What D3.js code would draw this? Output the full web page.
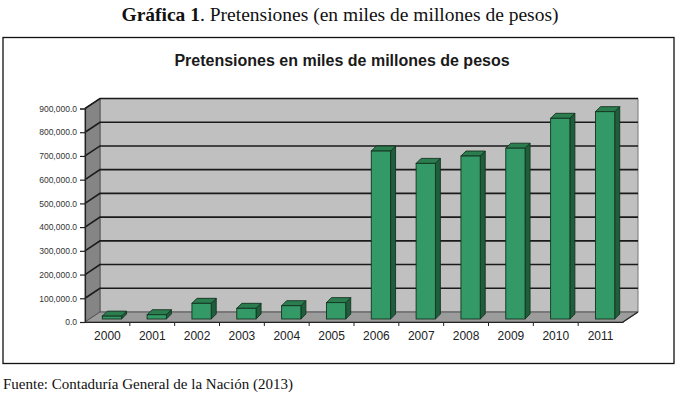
<!DOCTYPE html>
<html>
<head>
<meta charset="utf-8">
<script src="https://cdn.jsdelivr.net/npm/d3@7"></script>
<style>
  body { margin: 0; background: #fff; }
  svg { display: block; }
</style>
</head>
<body>
<div id="root"><svg width="680" height="398"></svg></div>
<script>
const years = ['2000', '2001', '2002', '2003', '2004', '2005', '2006', '2007', '2008', '2009', '2010', '2011'];
const pretensiones = [12000, 18000, 66000, 45000, 56000, 69000, 708000, 656000, 687000, 720000, 846000, 874000];
const yTicks = [0, 100000, 200000, 300000, 400000, 500000, 600000, 700000, 800000, 900000];

const svg = d3.select('#root svg');

// front plane of the 3d box
const plotLeft = 85;
const plotRight = 623;
const plotBottom = 322;
const plotTop = 108.5;
// depth offset of the back wall
const depthX = 15;
const depthY = -10;
// where the bars stand inside the depth
const barDepth = 0.3;

const xScale = d3.scaleBand().domain(years).range([plotLeft, plotRight]);
const yScale = d3.scaleLinear().domain([0, 900000]).range([plotBottom, plotTop]);

// headings
svg.append('text')
  .attr('x', 340).attr('y', 21)
  .attr('text-anchor', 'middle')
  .attr('font-family', 'Liberation Serif, serif')
  .attr('font-size', '19.5px')
  .attr('fill', '#111')
  .call(t => {
    t.append('tspan').attr('font-weight', 'bold').text('Gráfica 1');
    t.append('tspan').text('. Pretensiones (en miles de millones de pesos)');
  });

svg.append('rect')
  .attr('x', 3).attr('y', 37.5)
  .attr('width', 671).attr('height', 326)
  .attr('fill', '#fff')
  .attr('stroke', '#111')
  .attr('stroke-width', 1.3);

svg.append('text')
  .attr('x', 342).attr('y', 66)
  .attr('text-anchor', 'middle')
  .attr('font-family', 'Liberation Sans, Arial, sans-serif')
  .attr('font-weight', 'bold')
  .attr('font-size', '16px')
  .attr('fill', '#1a1a1a')
  .text('Pretensiones en miles de millones de pesos');

svg.append('text')
  .attr('x', 3).attr('y', 389)
  .attr('font-family', 'Liberation Serif, serif')
  .attr('font-size', '15px')
  .attr('fill', '#111')
  .text('Fuente: Contaduría General de la Nación (2013)');

// walls
const walls = svg.append('g').attr('class', 'walls');
const pts = arr => arr.map(p => p.join(',')).join(' ');

walls.append('polygon')
  .attr('points', pts([
    [plotLeft + depthX, plotTop + depthY], [plotRight + depthX, plotTop + depthY],
    [plotRight + depthX, plotBottom + depthY], [plotLeft + depthX, plotBottom + depthY]
  ]))
  .attr('fill', '#c0c0c0')
  .attr('stroke', '#777')
  .attr('stroke-width', 1);

walls.append('polygon')
  .attr('points', pts([
    [plotLeft, plotTop], [plotLeft + depthX, plotTop + depthY],
    [plotLeft + depthX, plotBottom + depthY], [plotLeft, plotBottom]
  ]))
  .attr('fill', '#858585')
  .attr('stroke', '#555')
  .attr('stroke-width', 1);

walls.append('polygon')
  .attr('points', pts([
    [plotLeft, plotBottom], [plotLeft + depthX, plotBottom + depthY],
    [plotRight + depthX, plotBottom + depthY], [plotRight, plotBottom]
  ]))
  .attr('fill', '#9c9c9c')
  .attr('stroke', '#555')
  .attr('stroke-width', 1);

// gridlines on back wall and side wall
const grid = svg.append('g').attr('class', 'grid');
grid.selectAll('path')
  .data(yTicks.filter(d => d > 0))
  .enter()
  .append('path')
  .attr('d', d => `M${plotLeft},${yScale(d)} L${plotLeft + depthX},${yScale(d) + depthY} L${plotRight + depthX},${yScale(d) + depthY}`)
  .attr('fill', 'none')
  .attr('stroke', '#1a1a1a')
  .attr('stroke-width', 1.6);

// bars
const barW = xScale.bandwidth() * 0.43;
const topX = 5;
const topY = -5;
const shiftX = depthX * barDepth;
const shiftY = depthY * barDepth;
const barColors = { front: '#339966', side: '#1f5e3a', top: '#2b7d4f', edge: '#143320' };

const bars = svg.append('g').attr('class', 'bars')
  .selectAll('g.col')
  .data(years.map((y, i) => ({ year: y, value: pretensiones[i] })))
  .enter()
  .append('g')
  .attr('class', 'col');

bars.each(function(d) {
  const g = d3.select(this);
  const x0 = xScale(d.year) + (xScale.bandwidth() - barW) / 2 + shiftX;
  const x1 = x0 + barW;
  const yb = yScale(0) + shiftY;
  const yt = yScale(d.value) + shiftY;
  g.append('polygon')
    .attr('points', pts([[x1, yt], [x1 + topX, yt + topY], [x1 + topX, yb + topY], [x1, yb]]))
    .attr('fill', barColors.side)
    .attr('stroke', barColors.edge).attr('stroke-width', 0.9);
  g.append('polygon')
    .attr('points', pts([[x0, yt], [x0 + topX, yt + topY], [x1 + topX, yt + topY], [x1, yt]]))
    .attr('fill', barColors.top)
    .attr('stroke', barColors.edge).attr('stroke-width', 0.9);
  g.append('rect')
    .attr('x', x0).attr('y', yt)
    .attr('width', barW).attr('height', yb - yt)
    .attr('fill', barColors.front)
    .attr('stroke', barColors.edge).attr('stroke-width', 0.9);
});

// axes
const yAxis = d3.axisLeft(yScale)
  .tickValues(yTicks)
  .tickFormat(d3.format(',.1f'))
  .tickSize(5)
  .tickPadding(3);
const yAxisG = svg.append('g')
  .attr('transform', `translate(${plotLeft} 0)`)
  .call(yAxis);
yAxisG.select('.domain').attr('stroke', '#222').attr('stroke-width', 1.2);
yAxisG.selectAll('.tick line').attr('stroke', '#222').attr('stroke-width', 1.2);
yAxisG.selectAll('.tick text')
  .attr('font-family', 'Liberation Sans, Arial, sans-serif')
  .attr('font-size', '8.5px')
  .attr('fill', '#333');

const xAxis = d3.axisBottom(xScale).tickSize(0).tickPadding(9);
const xAxisG = svg.append('g')
  .attr('transform', `translate(0 ${plotBottom})`)
  .call(xAxis);
xAxisG.select('.domain').attr('stroke', '#222').attr('stroke-width', 1.2);
xAxisG.selectAll('.tick text')
  .attr('font-family', 'Liberation Sans, Arial, sans-serif')
  .attr('font-size', '12px')
  .attr('fill', '#222');

// tick marks sit between the categories
xAxisG.selectAll('line.sep')
  .data(years.slice(1))
  .enter()
  .append('line')
  .attr('class', 'sep')
  .attr('x1', d => xScale(d)).attr('x2', d => xScale(d))
  .attr('y1', 0).attr('y2', 4)
  .attr('stroke', '#222').attr('stroke-width', 1);

// right edge of floor
svg.append('line')
  .attr('x1', plotRight).attr('y1', plotBottom)
  .attr('x2', plotRight + depthX).attr('y2', plotBottom + depthY)
  .attr('stroke', '#222').attr('stroke-width', 1.2);
</script>
</body>
</html>
